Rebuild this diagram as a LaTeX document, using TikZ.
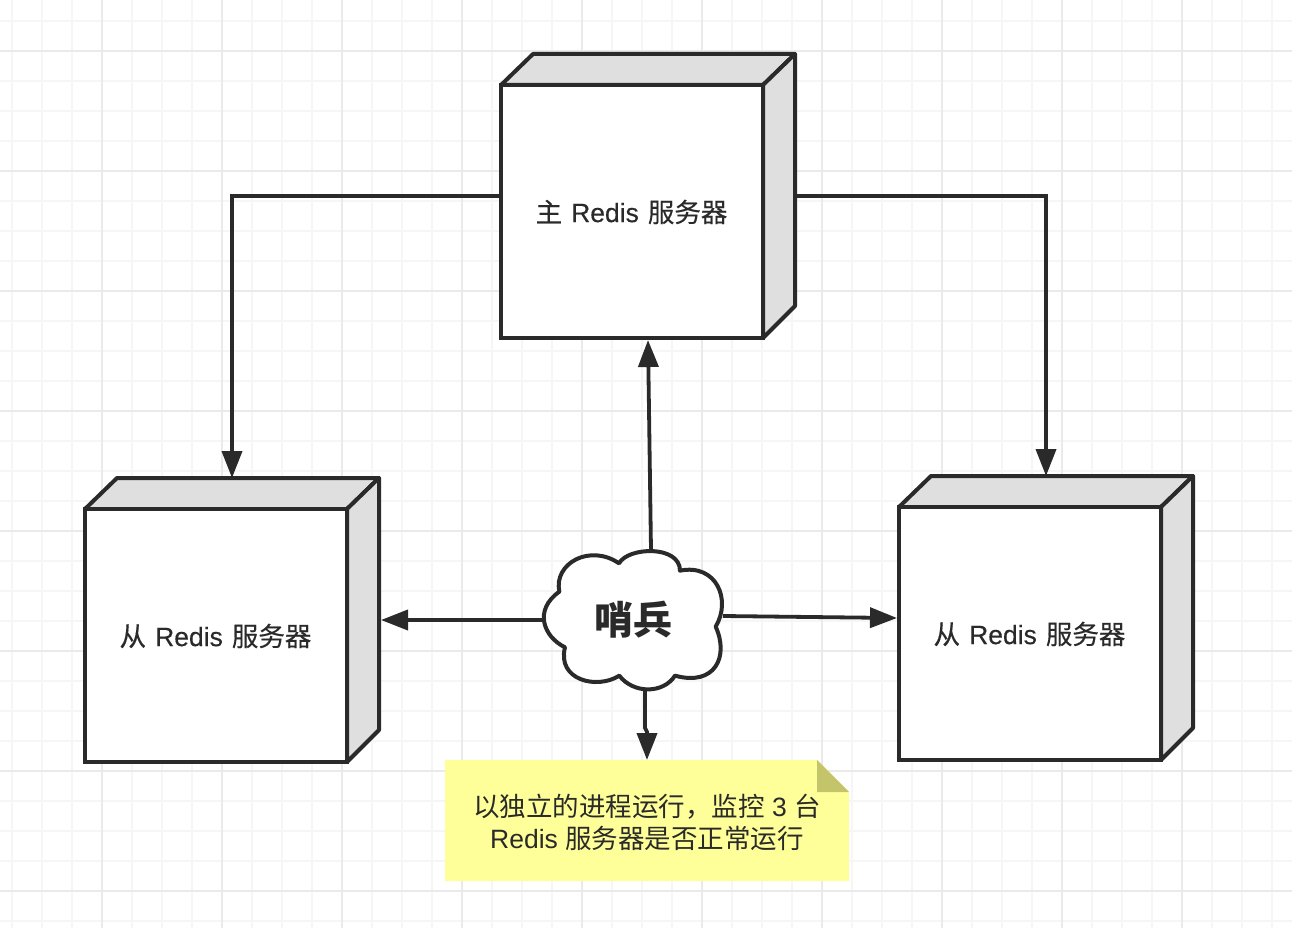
\documentclass[tikz,border=0pt]{standalone}
\usepackage{fontspec}
\setmainfont{Liberation Sans}
\newfontfamily\cjk{Noto Sans CJK SC}
\newfontfamily\cjkmid[FakeBold=0.35]{Noto Sans CJK SC}
\newfontfamily\latinmid[FakeBold=0.25]{Liberation Sans}
\usetikzlibrary{arrows.meta}
\definecolor{ink}{HTML}{2A2A2A}
\definecolor{gridminor}{HTML}{F6F6F6}
\definecolor{gridmajor}{HTML}{EAEAEA}
\definecolor{facegray}{HTML}{DFDFDF}
\definecolor{notefill}{HTML}{FFFF99}
\definecolor{notefold}{HTML}{C4C46A}
\tikzset{
  gridthin/.style={draw=gridminor,line width=1.8pt},
  gridthick/.style={draw=gridmajor,line width=1.8pt},
  serverframe/.style={inner sep=0pt,outer sep=0pt,minimum width=294pt,minimum height=284pt},
  serverface/.style={draw=ink,line width=4pt,line join=miter,fill=white},
  serverside/.style={draw=ink,line width=4pt,line join=round,fill=facegray},
  boxlabel/.style={text=ink,font=\fontsize{26.5}{32}\selectfont,inner sep=0pt,align=center},
  link/.style={draw=ink,line width=3.8pt,-{Triangle[length=27pt,width=20pt]}},
  cloudline/.style={draw=ink,line width=4pt,fill=white,line join=round},
}
% #1 name, #2 x, #3 y (centre of the whole solid), #4 label
\newcommand{\serverbox}[4]{%
  \node[serverframe] (#1) at (#2,#3) {};
  \draw[serverside] ([yshift=-31pt]#1.north west) -- ([xshift=32pt]#1.north west)
    -- (#1.north east) -- ([xshift=-32pt,yshift=-31pt]#1.north east) -- cycle;
  \draw[serverside] ([xshift=-32pt,yshift=-31pt]#1.north east) -- (#1.north east)
    -- ([yshift=32pt]#1.south east) -- ([xshift=-32pt]#1.south east) -- cycle;
  \draw[serverface] ([yshift=-31pt]#1.north west) rectangle ([xshift=-32pt]#1.south east);
  \node[boxlabel] (#1label) at ([xshift=-16.5pt,yshift=-16pt]#1.center) {#4};
}
\newcommand{\serverlabel}[1]{{\cjkmid #1}\hspace{9pt}{\latinmid Redis}\hspace{9pt}{\cjkmid 服务器}}
\begin{document}
\begin{tikzpicture}[x=1pt,y=-1pt]
  \useasboundingbox (0,0) rectangle (1292,928);
  \fill[white] (0,0) rectangle (1292,928);

  % background grid
  \foreach \k in {0,...,42} { \draw[gridthin] ({12+30*\k},0) -- ({12+30*\k},928); }
  \foreach \k in {0,...,30} { \draw[gridthin] (0,{21+30*\k}) -- (1292,{21+30*\k}); }
  \foreach \k in {0,...,9} { \draw[gridthick] ({102+120*\k},0) -- ({102+120*\k},928); }
  \foreach \k in {0,...,7} { \draw[gridthick] (0,{51+120*\k}) -- (1292,{51+120*\k}); }

  % servers
  \serverbox{master}{648}{196}{\serverlabel{主}}
  \serverbox{slaveleft}{232}{620}{\serverlabel{从}}
  \serverbox{slaveright}{1046}{618}{\serverlabel{从}}

  % sticky note
  \node[inner sep=0pt,outer sep=0pt,minimum width=404pt,minimum height=121pt] (note) at (647,820.5) {};
  \fill[notefill] (note.north west) -- ([xshift=-32pt]note.north east)
    -- ([yshift=-32pt]note.north east) -- (note.south east) -- (note.south west) -- cycle;
  \fill[notefold] ([xshift=-32pt]note.north east) -- ([yshift=-32pt]note.north east)
    -- ([xshift=-32pt,yshift=-32pt]note.north east) -- cycle;
  \node[boxlabel] (notetext) at (647,822.5) {{\cjk 以独立的进程运行，监控} 3 {\cjk 台}\\Redis {\cjk 服务器是否正常运行}};

  % cloud outline
  \begin{scope}[shift={(520,530)},x=0.3333pt,y=-0.3333pt]
    \draw[cloudline] (297,100)
      .. controls (325,50) and (480,45) .. (480,122)
      .. controls (590,100) and (635,210) .. (587,290)
      .. controls (628,380) and (585,470) .. (465,437)
      .. controls (430,492) and (340,492) .. (298,437)
      .. controls (230,480) and (110,450) .. (135,352)
      .. controls (70,320) and (40,240) .. (118,185)
      .. controls (100,100) and (210,40) .. (297,100) -- cycle;
  \end{scope}
  \node[inner sep=0pt,outer sep=0pt,minimum width=180pt,minimum height=140pt,text=ink,
        font=\fontsize{39}{42}\selectfont\cjk\bfseries] (sentinel) at (633,620) {哨兵};

  % connectors
  \draw[link] (master.west) -| (slaveleft.north);
  \draw[link] (master.east) -| (slaveright.north);
  \draw[link] ([xshift=18pt]sentinel.north) -- ([yshift=-2pt]master.south);
  \draw[link] (sentinel.west) -- ([xshift=2pt]slaveleft.east);
  \draw[link] ([yshift=4pt]sentinel.east) -- ([xshift=-2pt]slaveright.west);
  \draw[link] ([xshift=12pt]sentinel.south) -- ([xshift=12pt,yshift=-38pt]sentinel.south)
    -- ([yshift=28pt]note.north) -- (note.north);
\end{tikzpicture}
\end{document}
